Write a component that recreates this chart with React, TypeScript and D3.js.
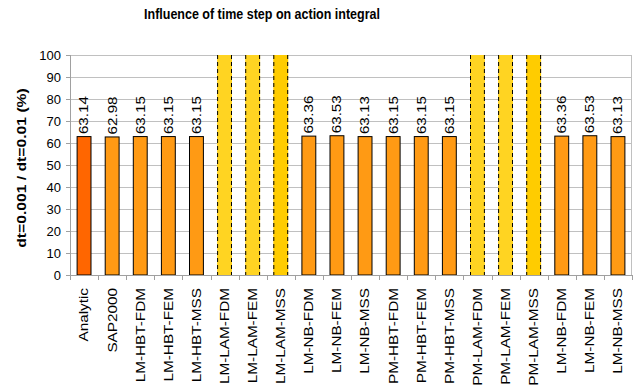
import React from "react";
import * as d3 from "d3";

const WIDTH = 635;
const HEIGHT = 387;

const categories = [
  "Analytic", "SAP2000",
  "LM-HBT-FDM", "LM-HBT-FEM", "LM-HBT-MSS",
  "LM-LAM-FDM", "LM-LAM-FEM", "LM-LAM-MSS",
  "LM-NB-FDM", "LM-NB-FEM", "LM-NB-MSS",
  "PM-HBT-FDM", "PM-HBT-FEM", "PM-HBT-MSS",
  "PM-LAM-FDM", "PM-LAM-FEM", "PM-LAM-MSS",
  "LM-NB-FDM", "LM-NB-FEM", "LM-NB-MSS",
];

// Ratio in percent; the LAM entries run off the top of the axis.
const values = [
  63.14, 62.98,
  63.15, 63.15, 63.15,
  150, 150, 150,
  63.36, 63.53, 63.13,
  63.15, 63.15, 63.15,
  150, 150, 150,
  63.36, 63.53, 63.13,
];

// Which entries are drawn as the off-scale (dashed) series
const offScale = [
  false, false,
  false, false, false,
  true, true, true,
  false, false, false,
  false, false, false,
  true, true, true,
  false, false, false,
];

const fills = [
  "#ff6600", "#ff9a14",
  "#ff9a14", "#ff9a14", "#ff9a14",
  "#ffd422", "#ffd422", "#ffcc00",
  "#ff9a14", "#ff9a14", "#ff9a14",
  "#ff9a14", "#ff9a14", "#ff9a14",
  "#ffd422", "#ffd422", "#ffcc00",
  "#ff9a14", "#ff9a14", "#ff9a14",
];

const yTicks = [0, 10, 20, 30, 40, 50, 60, 70, 80, 90, 100];

const title = "Influence of time step on action integral";
const yTitle = "dt=0.001 / dt=0.01 (%)";

const margin = { left: 70, right: 3, top: 55, bottom: 112 };
const FONT = "'Liberation Sans', Arial, sans-serif";
// Rotated text is drawn slightly narrow across its height
const ROT = "rotate(-90) scale(1,0.82)";

export default function App() {
  const plotW = WIDTH - margin.left - margin.right;
  const plotH = HEIGHT - margin.top - margin.bottom;

  const x = d3.scaleBand<string>()
    .domain(categories.map((_, i) => String(i)))
    .range([margin.left, margin.left + plotW])
    .paddingInner(0.47)
    .paddingOuter(0.235);

  const y = d3.scaleLinear().domain([0, 100]).range([margin.top + plotH, margin.top]);

  const bandStep = plotW / categories.length;
  const boundaries = d3.range(categories.length + 1).map((i) => margin.left + i * bandStep);
  const y0 = y(0);

  return (
    <div style={{ position: "fixed", left: 0, top: 0 }}>
      <svg width={WIDTH} height={HEIGHT} style={{ display: "block", background: "#fff" }}>
        <defs>
          <clipPath id="plot-clip">
            <rect x={margin.left} y={y(100)} width={plotW} height={plotH} />
          </clipPath>
        </defs>

        <text
          transform="translate(262,18.5) scale(1,1.18)"
          textAnchor="middle"
          fontFamily={FONT}
          fontWeight="bold"
          fontSize={12.5}
          fill="#000"
        >
          {title}
        </text>

        {/* horizontal gridlines */}
        {yTicks.map((t) => (
          <line
            key={"g" + t}
            x1={margin.left}
            x2={margin.left + plotW}
            y1={Math.round(y(t)) + 0.5}
            y2={Math.round(y(t)) + 0.5}
            stroke="#c0c0c0"
            strokeWidth={1}
          />
        ))}

        {/* right border of plot area */}
        <line
          x1={margin.left + plotW - 0.5}
          x2={margin.left + plotW - 0.5}
          y1={y(100)}
          y2={y0}
          stroke="#c0c0c0"
        />

        {/* y axis */}
        <line x1={margin.left + 0.5} x2={margin.left + 0.5} y1={y(100)} y2={y0 + 5} stroke="#a0a0a0" />
        {yTicks.map((t) => (
          <g key={"yt" + t}>
            <line
              x1={margin.left - 4}
              x2={margin.left}
              y1={Math.round(y(t)) + 0.5}
              y2={Math.round(y(t)) + 0.5}
              stroke="#a0a0a0"
            />
            <text
              x={margin.left - 9}
              y={y(t)}
              dy="0.35em"
              textAnchor="end"
              fontFamily={FONT}
              fontSize={13}
              fill="#000"
            >
              {t}
            </text>
          </g>
        ))}

        {/* x axis with ticks between categories */}
        <line x1={margin.left} x2={margin.left + plotW} y1={Math.round(y0) + 0.5} y2={Math.round(y0) + 0.5} stroke="#a0a0a0" />
        {boundaries.map((bx, i) => (
          <line
            key={"xt" + i}
            x1={Math.round(bx) + 0.5}
            x2={Math.round(bx) + 0.5}
            y1={y0}
            y2={y0 + 5}
            stroke="#a0a0a0"
          />
        ))}

        {/* bars */}
        <g clipPath="url(#plot-clip)">
          {values.map((v, i) => {
            const bx = x(String(i))!;
            const bw = x.bandwidth();
            const top = y(v);
            if (offScale[i]) {
              return (
                <g key={"b" + i}>
                  <rect x={bx} y={top} width={bw} height={y0 - top} fill={fills[i]} />
                  <line x1={bx + 0.5} x2={bx + 0.5} y1={y(100)} y2={y0} stroke="#000" strokeDasharray="4,3" />
                  <line x1={bx + bw - 0.5} x2={bx + bw - 0.5} y1={y(100)} y2={y0} stroke="#000" strokeDasharray="4,3" />
                </g>
              );
            }
            return (
              <rect
                key={"b" + i}
                x={bx + 0.5}
                y={top + 0.5}
                width={bw - 1}
                height={y0 - top - 0.5}
                fill={fills[i]}
                stroke="#000"
                strokeWidth={1}
              />
            );
          })}
        </g>

        {/* value labels */}
        {values.map((v, i) => {
          if (offScale[i]) return null;
          const cx = x(String(i))! + x.bandwidth() / 2;
          const ty = y(v) - 2;
          return (
            <text
              key={"v" + i}
              transform={`translate(${cx},${ty}) ${ROT}`}
              dy="0.35em"
              textAnchor="start"
              fontFamily={FONT}
              fontSize={15.2}
              fill="#000"
            >
              {v.toFixed(2)}
            </text>
          );
        })}

        {/* category labels */}
        {categories.map((c, i) => {
          const cx = x(String(i))! + x.bandwidth() / 2;
          return (
            <text
              key={"c" + i}
              transform={`translate(${cx},${y0 + 13}) ${ROT}`}
              dy="0.35em"
              textAnchor="end"
              fontFamily={FONT}
              fontSize={15.3}
              fill="#000"
            >
              {c}
            </text>
          );
        })}

        {/* y axis title */}
        <text
          transform={`translate(21,${(y(100) + y0) / 2 + 3}) ${ROT}`}
          dy="0.35em"
          textAnchor="middle"
          fontFamily={FONT}
          fontWeight="bold"
          fontSize={15.7}
          fill="#000"
        >
          {yTitle}
        </text>
      </svg>
    </div>
  );
}
